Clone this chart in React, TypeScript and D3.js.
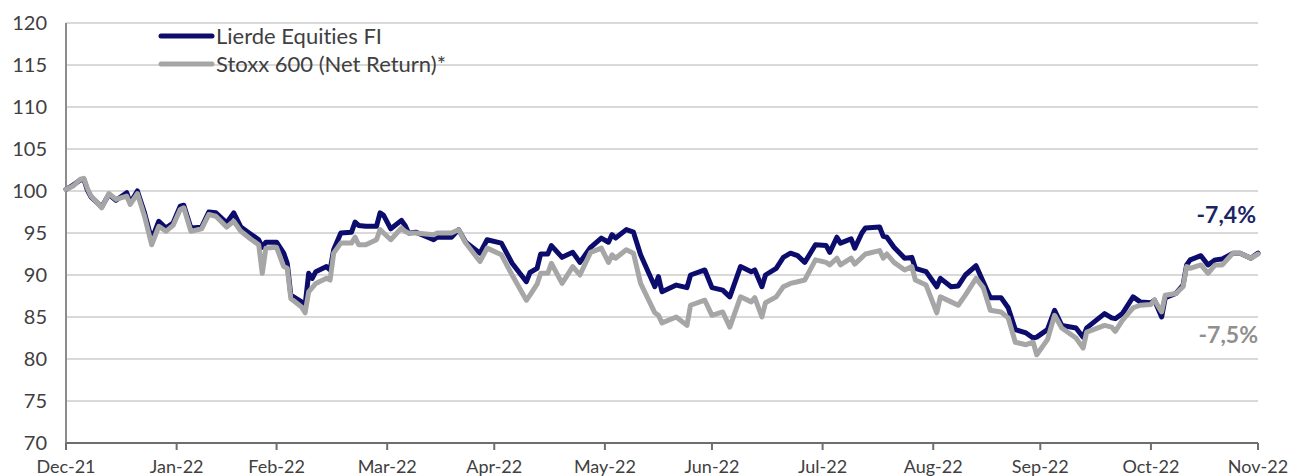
import { useEffect, useRef } from "react";
import * as d3 from "d3";

const dates = [
  "2021-12-31", "2022-01-02", "2022-01-04", "2022-01-05", "2022-01-06", "2022-01-07", "2022-01-10",
  "2022-01-12", "2022-01-14", "2022-01-17", "2022-01-18", "2022-01-20", "2022-01-22", "2022-01-24",
  "2022-01-26", "2022-01-28", "2022-01-30", "2022-02-01", "2022-02-02", "2022-02-04", "2022-02-07",
  "2022-02-09", "2022-02-11", "2022-02-14", "2022-02-16", "2022-02-18", "2022-02-21", "2022-02-23",
  "2022-02-24", "2022-02-25", "2022-02-28", "2022-03-02", "2022-03-03", "2022-03-04", "2022-03-07",
  "2022-03-08", "2022-03-09", "2022-03-10", "2022-03-11", "2022-03-14", "2022-03-15", "2022-03-16",
  "2022-03-18", "2022-03-21", "2022-03-22", "2022-03-23", "2022-03-25", "2022-03-28", "2022-03-29",
  "2022-03-30", "2022-04-01", "2022-04-04", "2022-04-05", "2022-04-06", "2022-04-08", "2022-04-13",
  "2022-04-14", "2022-04-18", "2022-04-20", "2022-04-22", "2022-04-26", "2022-04-28", "2022-05-02",
  "2022-05-05", "2022-05-09", "2022-05-10", "2022-05-12", "2022-05-13", "2022-05-15", "2022-05-16",
  "2022-05-19", "2022-05-22", "2022-05-24", "2022-05-27", "2022-05-30", "2022-06-01", "2022-06-02",
  "2022-06-03", "2022-06-06", "2022-06-08", "2022-06-10", "2022-06-14", "2022-06-15", "2022-06-16",
  "2022-06-20", "2022-06-23", "2022-06-24", "2022-06-28", "2022-06-30", "2022-07-03", "2022-07-05",
  "2022-07-08", "2022-07-11", "2022-07-12", "2022-07-14", "2022-07-15", "2022-07-18", "2022-07-20",
  "2022-07-22", "2022-07-24", "2022-07-26", "2022-07-29", "2022-08-01", "2022-08-02", "2022-08-04",
  "2022-08-05", "2022-08-08", "2022-08-09", "2022-08-11", "2022-08-12", "2022-08-16", "2022-08-17",
  "2022-08-18", "2022-08-20", "2022-08-23", "2022-08-25", "2022-08-26", "2022-08-29", "2022-09-01",
  "2022-09-02", "2022-09-05", "2022-09-07", "2022-09-09", "2022-09-12", "2022-09-14", "2022-09-16",
  "2022-09-19", "2022-09-21", "2022-09-23", "2022-09-26", "2022-09-28", "2022-09-29", "2022-10-02",
  "2022-10-04", "2022-10-06", "2022-10-10", "2022-10-12", "2022-10-13", "2022-10-18", "2022-10-20",
  "2022-10-21", "2022-10-23", "2022-10-26", "2022-10-28", "2022-10-31", "2022-11-01", "2022-11-03",
  "2022-11-04", "2022-11-07", "2022-11-09", "2022-11-10", "2022-11-11", "2022-11-14", "2022-11-16",
  "2022-11-18", "2022-11-20", "2022-11-23", "2022-11-25", "2022-11-28", "2022-11-30",
];

const lierde = [
  100.2, 100.7, 101.3, 101.4, 100.1, 99.3, 98.1, 99.6, 98.9, 99.8, 98.6, 100.0, 97.4, 94.2,
  96.4, 95.6, 96.2, 98.2, 98.3, 95.6, 95.7, 97.5, 97.4, 96.2, 97.4, 95.7, 94.8, 94.2,
  93.3, 93.9, 93.9, 92.6, 91.4, 87.6, 86.8, 86.4, 90.2, 89.6, 90.4, 91.0, 90.6, 93.0,
  95.0, 95.1, 96.3, 95.9, 95.8, 95.8, 97.4, 97.1, 95.5, 96.5, 95.9, 95.0, 95.1, 94.2,
  94.5, 94.5, 95.4, 93.9, 92.6, 94.2, 93.8, 91.4, 89.2, 90.3, 90.8, 92.5, 92.5, 93.5,
  92.1, 92.7, 91.5, 93.3, 94.4, 93.9, 94.8, 94.4, 95.4, 95.1, 92.4, 88.6, 89.8, 88.0,
  88.8, 88.5, 90.0, 90.6, 88.5, 88.2, 87.4, 91.0, 90.4, 90.6, 88.6, 90.0, 90.8, 92.1,
  92.6, 92.3, 91.5, 93.6, 93.5, 92.7, 94.5, 93.8, 94.3, 93.2, 95.0, 95.6, 95.7, 94.6,
  94.5, 93.3, 92.0, 92.1, 90.8, 90.4, 88.6, 89.6, 88.6, 88.7, 90.0, 91.1, 89.2, 87.3,
  87.3, 86.1, 83.5, 83.1, 82.5, 82.6, 83.5, 85.8, 84.0, 83.7, 82.6, 83.7, 85.4, 84.9,
  84.8, 85.4, 87.4, 86.8, 86.7, 87.0, 85.0, 87.3, 87.8, 88.8, 91.2, 91.8, 92.3, 91.2,
  91.8, 91.9, 92.6, 92.6, 92.0, 92.6,
];

const stoxx = [
  100.2, 100.6, 101.4, 101.5, 100.3, 99.4, 98.0, 99.7, 99.0, 99.4, 98.4, 99.7, 97.0, 93.6,
  95.8, 95.2, 95.9, 97.8, 98.0, 95.2, 95.5, 97.2, 97.0, 95.7, 96.4, 95.2, 94.2, 93.6,
  90.2, 93.2, 93.3, 91.0, 90.8, 87.2, 86.2, 85.5, 88.0, 88.5, 89.0, 89.6, 89.4, 92.6,
  93.8, 93.8, 94.5, 93.6, 93.6, 94.2, 95.4, 95.0, 94.2, 95.6, 95.2, 95.0, 95.0, 94.8,
  95.0, 95.0, 95.4, 93.8, 91.6, 93.2, 92.4, 90.0, 87.0, 87.6, 88.9, 90.2, 90.2, 91.4,
  89.0, 91.0, 90.0, 92.7, 93.2, 91.5, 92.4, 92.0, 93.0, 92.6, 89.0, 85.5, 85.2, 84.3,
  85.0, 84.0, 86.4, 87.0, 85.2, 85.6, 83.8, 87.4, 86.8, 87.3, 85.0, 86.7, 87.4, 88.6,
  89.0, 89.2, 89.4, 91.8, 91.5, 91.2, 92.0, 91.2, 92.0, 91.3, 92.1, 92.5, 92.9, 92.0,
  92.5, 91.5, 90.6, 91.0, 89.4, 88.8, 85.5, 87.4, 86.8, 86.4, 87.6, 89.6, 88.5, 85.8,
  85.6, 84.9, 82.0, 81.7, 82.0, 80.5, 82.3, 85.2, 83.7, 82.5, 81.3, 83.2, 84.0, 83.8,
  83.3, 84.6, 86.1, 86.4, 86.5, 87.0, 85.6, 87.6, 87.8, 88.6, 91.0, 90.8, 91.2, 90.2,
  91.2, 91.2, 92.6, 92.6, 92.0, 92.5,
];

const tickDates = [
  "2021-12-31", "2022-01-31", "2022-02-28", "2022-03-31", "2022-04-30", "2022-05-31",
  "2022-06-30", "2022-07-31", "2022-08-31", "2022-09-30", "2022-10-31", "2022-11-30",
];
const tickLabels = [
  "Dec-21", "Jan-22", "Feb-22", "Mar-22", "Apr-22", "May-22",
  "Jun-22", "Jul-22", "Aug-22", "Sep-22", "Oct-22", "Nov-22",
];
const yTicks = [70, 75, 80, 85, 90, 95, 100, 105, 110, 115, 120];

const seriesNames = ["Lierde Equities FI", "Stoxx 600 (Net Return)*"];
const endLabels = ["-7,4%", "-7,5%"];

const NAVY = "#0b0c6b";
const GREY = "#a6a6a6";
const FONT = "Lato, 'Open Sans', sans-serif";

const App = () => {
  const svgRef = useRef<SVGSVGElement>(null);

  useEffect(() => {
    const parse = d3.timeParse("%Y-%m-%d");
    const svg = d3.select(svgRef.current);
    svg.selectAll("*").remove();

    const x = d3
      .scaleTime()
      .domain([parse(tickDates[0])!, parse(tickDates[tickDates.length - 1])!])
      .range([66, 1258]);
    const y = d3.scaleLinear().domain([70, 120]).range([443, 23]);

    // gridlines
    svg
      .append("g")
      .selectAll("line")
      .data(yTicks.filter((t) => t > 70))
      .enter()
      .append("line")
      .attr("x1", x.range()[0])
      .attr("x2", x.range()[1])
      .attr("y1", (d) => y(d))
      .attr("y2", (d) => y(d))
      .attr("stroke", "#d9d9d9")
      .attr("stroke-width", 2);

    // y labels
    svg
      .append("g")
      .selectAll("text")
      .data(yTicks)
      .enter()
      .append("text")
      .attr("x", 47)
      .attr("y", (d) => y(d))
      .attr("dy", "0.36em")
      .attr("text-anchor", "end")
      .attr("font-family", FONT)
      .attr("font-size", 20)
      .attr("fill", "#404040")
      .text((d) => d);

    // y axis line
    svg
      .append("line")
      .attr("x1", x.range()[0])
      .attr("x2", x.range()[0])
      .attr("y1", y(120))
      .attr("y2", y(70))
      .attr("stroke", "#8c8c8c")
      .attr("stroke-width", 2);

    // x axis
    svg
      .append("line")
      .attr("x1", x.range()[0])
      .attr("x2", x.range()[1])
      .attr("y1", y(70))
      .attr("y2", y(70))
      .attr("stroke", "#6e6e6e")
      .attr("stroke-width", 2);

    const xt = svg.append("g");
    tickDates.forEach((t, i) => {
      const px = x(parse(t)!);
      xt.append("line")
        .attr("x1", px)
        .attr("x2", px)
        .attr("y1", y(70))
        .attr("y2", y(70) + 7)
        .attr("stroke", "#6e6e6e")
        .attr("stroke-width", 2);
      xt.append("text")
        .attr("x", px)
        .attr("y", 473)
        .attr("text-anchor", "middle")
        .attr("font-family", FONT)
        .attr("font-size", 18)
        .attr("fill", "#404040")
        .text(tickLabels[i]);
    });

    const line = d3
      .line<number>()
      .x((d, i) => x(parse(dates[i])!))
      .y((d) => y(d));

    svg
      .append("path")
      .attr("d", line(lierde))
      .attr("fill", "none")
      .attr("stroke", NAVY)
      .attr("stroke-width", 5)
      .attr("stroke-linejoin", "round")
      .attr("stroke-linecap", "round");

    svg
      .append("path")
      .attr("d", line(stoxx))
      .attr("fill", "none")
      .attr("stroke", GREY)
      .attr("stroke-width", 5)
      .attr("stroke-linejoin", "round")
      .attr("stroke-linecap", "round");

    // legend
    const legend = svg.append("g");
    [NAVY, GREY].forEach((c, i) => {
      const ly = 36 + i * 28;
      legend
        .append("line")
        .attr("x1", 161)
        .attr("x2", 212)
        .attr("y1", ly)
        .attr("y2", ly)
        .attr("stroke", c)
        .attr("stroke-width", 5)
        .attr("stroke-linecap", "round");
      legend
        .append("text")
        .attr("x", 216)
        .attr("y", ly)
        .attr("dy", "0.36em")
        .attr("font-family", FONT)
        .attr("font-size", 22)
        .attr("fill", "#404040")
        .style("font-variant-ligatures", "none")
        .text(seriesNames[i]);
    });

    // end annotations
    svg
      .append("text")
      .attr("x", 1256)
      .attr("y", 223)
      .attr("text-anchor", "end")
      .attr("font-family", FONT)
      .attr("font-weight", "bold")
      .attr("font-size", 23)
      .attr("fill", "#1b2563")
      .text(endLabels[0]);
    svg
      .append("text")
      .attr("x", 1258)
      .attr("y", 343)
      .attr("text-anchor", "end")
      .attr("font-family", FONT)
      .attr("font-weight", "bold")
      .attr("font-size", 23)
      .attr("fill", "#8f8f8f")
      .text(endLabels[1]);
  }, []);

  return (
    <svg
      ref={svgRef}
      width={1290}
      height={476}
      style={{ position: "absolute", left: 0, top: 0, background: "#fff" }}
    />
  );
};

export default App;
